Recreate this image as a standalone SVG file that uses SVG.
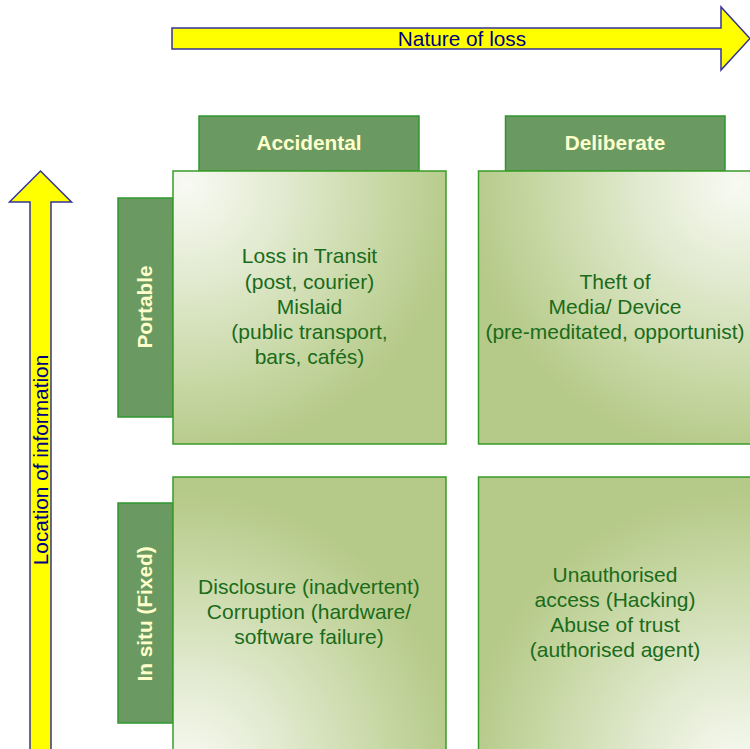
<svg xmlns="http://www.w3.org/2000/svg" width="750" height="749" viewBox="0 0 750 749">
<defs>
<radialGradient id="gTL" cx="0.05" cy="0.05" r="1" fx="0.05" fy="0.05">
<stop offset="0" stop-color="#f8faf3"/><stop offset="0.35" stop-color="#e2ead0"/><stop offset="0.8" stop-color="#c2d49c"/><stop offset="1" stop-color="#b5c988"/>
</radialGradient>
<radialGradient id="gTR" cx="0.95" cy="0.05" r="1" fx="0.95" fy="0.05">
<stop offset="0" stop-color="#f8faf3"/><stop offset="0.35" stop-color="#e2ead0"/><stop offset="0.8" stop-color="#c2d49c"/><stop offset="1" stop-color="#b5c988"/>
</radialGradient>
<radialGradient id="gBL" cx="0.05" cy="1.05" r="1" fx="0.05" fy="1.05">
<stop offset="0" stop-color="#f8faf3"/><stop offset="0.35" stop-color="#e2ead0"/><stop offset="0.8" stop-color="#c2d49c"/><stop offset="1" stop-color="#b5c988"/>
</radialGradient>
<radialGradient id="gBR" cx="0.95" cy="1.05" r="1" fx="0.95" fy="1.05">
<stop offset="0" stop-color="#f8faf3"/><stop offset="0.35" stop-color="#e2ead0"/><stop offset="0.8" stop-color="#c2d49c"/><stop offset="1" stop-color="#b5c988"/>
</radialGradient>
<style>
.arrow{fill:#ffff00;stroke:#333399;stroke-width:1.5}
.axis{font-family:"Liberation Sans",Arial,sans-serif;font-size:20.8px;fill:#000080;text-anchor:middle}
.hdr{fill:#6a9a62;stroke:#2f962f;stroke-width:1.5}
.hdrt{font-family:"Liberation Sans",Arial,sans-serif;font-size:20.8px;font-weight:bold;fill:#ffffcc;text-anchor:middle}
.quad{stroke:#3a9a2a;stroke-width:1.5}
.qt{font-family:"Liberation Sans",Arial,sans-serif;font-size:21px;fill:#1a6b1a;text-anchor:middle}
</style>
</defs>
<rect width="750" height="749" fill="#ffffff"/>
<g id="connectors">
<g id="nature-arrow">
<path class="arrow" d="M172,28 H721 V7 L750,38.5 L721,70 V49 H172 Z"/>
<text class="axis" x="462" y="45.5">Nature of loss</text>
</g>
<g id="location-arrow">
<path class="arrow" d="M30,760 V202 H9.5 L40.5,171 L71.5,202 H51 V760 Z"/>
<text class="axis" transform="translate(48,460) rotate(-90)">Location of information</text>
</g>
</g>
<g id="hdr-accidental">
<rect class="hdr" x="199" y="116" width="220" height="55"/>
<text class="hdrt" x="309" y="150">Accidental</text>
</g>
<g id="hdr-deliberate">
<rect class="hdr" x="505.5" y="116" width="219.5" height="55"/>
<text class="hdrt" x="615" y="150">Deliberate</text>
</g>
<g id="hdr-portable">
<rect class="hdr" x="118" y="198" width="55" height="219"/>
<text class="hdrt" transform="translate(152,307) rotate(-90)">Portable</text>
</g>
<g id="hdr-insitu">
<rect class="hdr" x="118" y="503" width="55" height="220"/>
<text class="hdrt" transform="translate(152,614) rotate(-90)">In situ (Fixed)</text>
</g>
<g id="quad-accidental-portable">
<rect class="quad" x="173" y="171" width="273" height="273" fill="url(#gTL)"/>
<text class="qt" x="309.5" y="263">Loss in Transit</text>
<text class="qt" x="309.5" y="288.5">(post, courier)</text>
<text class="qt" x="309.5" y="313.5">Mislaid</text>
<text class="qt" x="309.5" y="339">(public transport,</text>
<text class="qt" x="309.5" y="364">bars, cafés)</text>
</g>
<g id="quad-deliberate-portable">
<rect class="quad" x="478.5" y="171" width="273" height="273" fill="url(#gTR)"/>
<text class="qt" x="615" y="289">Theft of</text>
<text class="qt" x="615" y="314">Media/ Device</text>
<text class="qt" x="615" y="339">(pre-meditated, opportunist)</text>
</g>
<g id="quad-accidental-insitu">
<rect class="quad" x="173" y="477" width="273" height="280" fill="url(#gBL)"/>
<text class="qt" x="309" y="593.5">Disclosure (inadvertent)</text>
<text class="qt" x="309" y="619">Corruption (hardware/</text>
<text class="qt" x="309" y="644">software failure)</text>
</g>
<g id="quad-deliberate-insitu">
<rect class="quad" x="478.5" y="477" width="273" height="280" fill="url(#gBR)"/>
<text class="qt" x="615" y="582">Unauthorised</text>
<text class="qt" x="615" y="607">access (Hacking)</text>
<text class="qt" x="615" y="632">Abuse of trust</text>
<text class="qt" x="615" y="657">(authorised agent)</text>
</g>
</svg>
